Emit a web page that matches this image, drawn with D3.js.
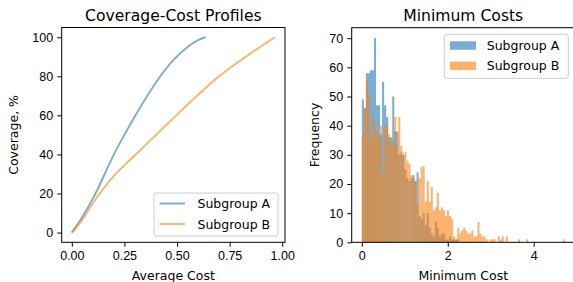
<!DOCTYPE html>
<html>
<head>
<meta charset="utf-8">
<script src="https://cdn.jsdelivr.net/npm/d3@7"></script>
<style>
  body { margin: 0; background: #fff; }
  svg { display: block; font-family: "DejaVu Sans", sans-serif; }
</style>
</head>
<body>
<svg class="chart"></svg>
<script>
// coverage-cost curves
var costA = [0, 0.05, 0.108, 0.2, 0.25, 0.30, 0.35, 0.414, 0.48, 0.55, 0.60, 0.635];
var covA  = [0, 8, 19, 40, 50, 59.5, 68.5, 79, 88, 95, 98.5, 100];
var costB = [0, 0.05, 0.1, 0.15, 0.2, 0.25, 0.314, 0.4, 0.496, 0.6, 0.70, 0.80, 0.88, 0.965];
var covB  = [0, 6.5, 15, 22.5, 29, 34.5, 41, 50, 60, 70.5, 80, 88, 94, 100];

// minimum cost histograms, shared bins 0 .. 4.72 (100 bins)
var histMax = 4.72;
var countsA = [49,46,58,58,59,59,70,47,47,37,55,47,43,36,36,50,38,38,30,31,
               30,25,22,21,22,23,21,24,9,8,10,6,10,5,3,2,7,5,2,3,
               3,1,1,2,1,1,1,1,0,0,0,0,0,0,0,0,0,0,0,0,
               0,0,0,0,0,0,0,0,0,0,0,0,0,0,0,0,0,0,0,0,
               0,0,0,0,0,0,0,0,0,0,0,0,0,0,0,0,0,0,0,0];
var countsB = [37,46,56,51,35,43,40,38,36,40,24,40,40,37,33,35,43,33,43,33,
               30,31,28,27,23,22,21,13,22,26,26,14,21,14,19,11,12,17,11,12,
               11,9,11,9,8,2,1,5,3,4,5,4,3,3,4,2,2,7,3,2,
               2,1,0,1,1,1,0,2,1,2,0,2,0,0,0,0,0,1,0,0,
               0,1,0,0,0,0,0,0,0,0,0,0,0,0,0,0,0,0,0,1];

var xTicksL = [0, 0.25, 0.5, 0.75, 1.0];
var yTicksL = [0, 20, 40, 60, 80, 100];
var xTicksR = [0, 2, 4];
var yTicksR = [0, 10, 20, 30, 40, 50, 60, 70];

var W = 573, H = 282;
var blue = "#1f77b4", orange = "#ff7f0e";
var fs = "12.5px", titleFs = "15.6px";

var svg = d3.select(".chart").attr("width", W).attr("height", H);

function styleAxis(g) {
  g.selectAll(".domain").remove();
  g.selectAll(".tick line").attr("stroke", "#000").attr("stroke-width", 1);
  g.selectAll(".tick text").attr("fill", "#000").attr("font-size", fs);
}

// ---------- left panel ----------
var L = {left: 61.7, right: 285, top: 27.5, bottom: 242.3};
var xL = d3.scaleLinear().domain([-0.048, 1.013]).range([L.left, L.right]);
var yL = d3.scaleLinear().domain([-5, 105]).range([L.bottom, L.top]);

var gL = svg.append("g");
var lineL = d3.line().x(function(d){return xL(d[0]);}).y(function(d){return yL(d[1]);})
  .curve(d3.curveCatmullRom.alpha(0.5));

gL.append("path").datum(d3.zip(costA, covA)).attr("d", lineL)
  .attr("fill", "none").attr("stroke", blue).attr("stroke-opacity", 0.6).attr("stroke-width", 1.9);
gL.append("path").datum(d3.zip(costB, covB)).attr("d", lineL)
  .attr("fill", "none").attr("stroke", orange).attr("stroke-opacity", 0.6).attr("stroke-width", 1.9);

gL.append("g").attr("transform", "translate(0," + L.bottom + ")")
  .call(d3.axisBottom(xL).tickValues(xTicksL).tickFormat(d3.format(".2f")).tickSize(4.4).tickPadding(4.6))
  .call(styleAxis);
gL.append("g").attr("transform", "translate(" + L.left + ",0)")
  .call(d3.axisLeft(yL).tickValues(yTicksL).tickSize(4.4).tickPadding(4.2))
  .call(styleAxis);

gL.append("rect").attr("x", L.left).attr("y", L.top)
  .attr("width", L.right - L.left).attr("height", L.bottom - L.top)
  .attr("fill", "none").attr("stroke", "#000").attr("stroke-width", 1);

gL.append("text").attr("x", (L.left + L.right) / 2).attr("y", 21.3)
  .attr("text-anchor", "middle").attr("font-size", titleFs).text("Coverage-Cost Profiles");
gL.append("text").attr("x", (L.left + L.right) / 2).attr("y", 280)
  .attr("text-anchor", "middle").attr("font-size", fs).text("Average Cost");
gL.append("text").attr("transform", "translate(18," + ((L.top + L.bottom) / 2) + ") rotate(-90)")
  .attr("text-anchor", "middle").attr("font-size", fs).text("Coverage, %");

// legend left
var legL = gL.append("g").attr("transform", "translate(154,193)");
legL.append("rect").attr("width", 124).attr("height", 43).attr("rx", 2.5)
  .attr("fill", "#fff").attr("fill-opacity", 0.8).attr("stroke", "#ccc").attr("stroke-width", 1);
[["Subgroup A", blue], ["Subgroup B", orange]].forEach(function(d, i) {
  legL.append("line").attr("x1", 5.5).attr("x2", 31).attr("y1", 10.5 + i * 20.5).attr("y2", 10.5 + i * 20.5)
    .attr("stroke", d[1]).attr("stroke-opacity", 0.6).attr("stroke-width", 1.9);
  legL.append("text").attr("x", 43.5).attr("y", 15 + i * 20.5).attr("font-size", fs).text(d[0]);
});

// ---------- right panel ----------
var R = {left: 351.7, right: 574.8, top: 27.7, bottom: 242.3};
var xR = d3.scaleLinear().domain([-0.236, 4.956]).range([R.left, R.right]);
var yR = d3.scaleLinear().domain([0, 73.6]).range([R.bottom, R.top]);

var binW = histMax / countsB.length;
function binData(counts) {
  return counts.map(function(c, i) { return {x0: i * binW, x1: (i + 1) * binW, n: c}; })
    .filter(function(d) { return d.n > 0; });
}

var gR = svg.append("g");
[[countsA, blue], [countsB, orange]].forEach(function(s) {
  gR.append("g").selectAll("rect")
    .data(binData(s[0]))
    .enter()
    .append("rect")
    .attr("x", function(d){return xR(d.x0);})
    .attr("width", function(d){return xR(d.x1) - xR(d.x0);})
    .attr("y", function(d){return yR(d.n);})
    .attr("height", function(d){return yR(0) - yR(d.n);})
    .attr("fill", s[1]).attr("fill-opacity", 0.6);
});

gR.append("g").attr("transform", "translate(0," + R.bottom + ")")
  .call(d3.axisBottom(xR).tickValues(xTicksR).tickFormat(d3.format("d")).tickSize(4.4).tickPadding(4.6))
  .call(styleAxis);
gR.append("g").attr("transform", "translate(" + R.left + ",0)")
  .call(d3.axisLeft(yR).tickValues(yTicksR).tickSize(4.4).tickPadding(4.2))
  .call(styleAxis);

gR.append("rect").attr("x", R.left).attr("y", R.top)
  .attr("width", R.right - R.left).attr("height", R.bottom - R.top)
  .attr("fill", "none").attr("stroke", "#000").attr("stroke-width", 1);

gR.append("text").attr("x", (R.left + R.right) / 2).attr("y", 21.3)
  .attr("text-anchor", "middle").attr("font-size", titleFs).text("Minimum Costs");
gR.append("text").attr("x", (R.left + R.right) / 2).attr("y", 280)
  .attr("text-anchor", "middle").attr("font-size", fs).text("Minimum Cost");
gR.append("text").attr("transform", "translate(318.5," + ((R.top + R.bottom) / 2) + ") rotate(-90)")
  .attr("text-anchor", "middle").attr("font-size", fs).text("Frequency");

// legend right
var legR = gR.append("g").attr("transform", "translate(444.3,34.3)");
legR.append("rect").attr("width", 124).attr("height", 44).attr("rx", 2.5)
  .attr("fill", "#fff").attr("fill-opacity", 0.8).attr("stroke", "#ccc").attr("stroke-width", 1);
[["Subgroup A", blue], ["Subgroup B", orange]].forEach(function(d, i) {
  legR.append("rect").attr("x", 5.7).attr("y", 7 + i * 20.3).attr("width", 26).attr("height", 8.5)
    .attr("fill", d[1]).attr("fill-opacity", 0.6);
  legR.append("text").attr("x", 42.4).attr("y", 15.5 + i * 20.3).attr("font-size", fs).text(d[0]);
});
</script>
</body>
</html>
